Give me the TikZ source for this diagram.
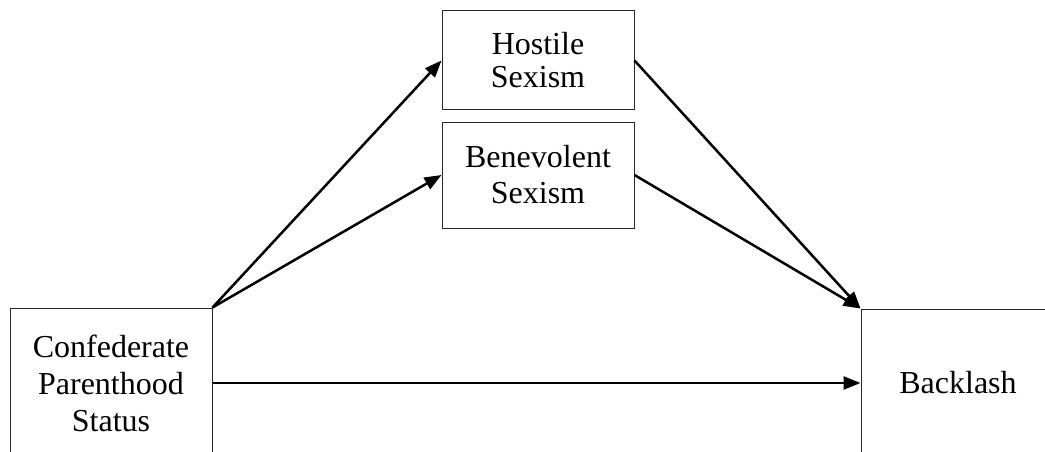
\documentclass[tikz,border=0pt]{standalone}
\usepackage{fontspec}
\setmainfont{Liberation Serif}
\usetikzlibrary{arrows.meta}
\begin{document}
\begin{tikzpicture}[x=1pt,y=-1pt,
  box/.style={draw=black!85, line width=1pt, inner sep=0pt, align=center},
  path/.style={line width=2.5pt, -{Triangle[length=17pt,width=13pt]}}
]
\useasboundingbox (0,0) rectangle (1045,452);
\clip (0,0) rectangle (1045,452);

% mediators
\node[box, minimum width=192pt, minimum height=99pt,
      font=\fontsize{32}{33}\selectfont] (hs) at (538,60.5) {Hostile\\Sexism};
\node[box, minimum width=192pt, minimum height=106pt,
      font=\fontsize{32}{36}\selectfont] (bs) at (538,175) {Benevolent\\Sexism};

% predictor and outcome (boxes run past the page edge)
\node[box, minimum width=202pt, minimum height=150pt,
      font=\fontsize{32}{37}\selectfont] (cps) at (111,383) {Confederate\\Parenthood\\Status};
\node[box, minimum width=194pt, minimum height=148pt,
      font=\fontsize{32}{37}\selectfont] (bl) at (958,383) {Backlash};

% paths
\draw[path] (cps.north east) -- (hs.west);
\draw[path] (cps.north east) -- (bs.west);
\draw[path] (hs.east) -- (bl.north west);
\draw[path] (bs.east) -- (bl.north west);
\draw[path] (cps.east) -- (bl.west);
\end{tikzpicture}
\end{document}
